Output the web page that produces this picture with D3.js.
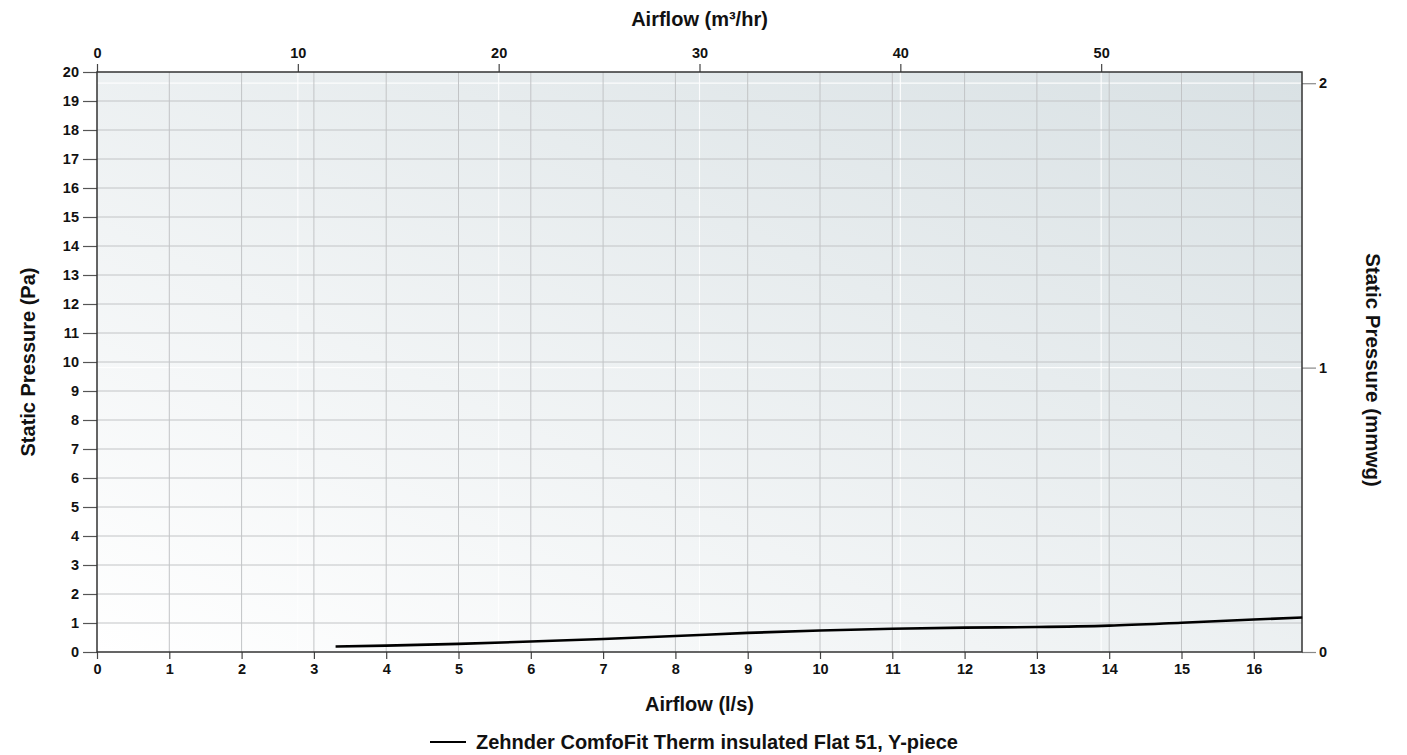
<!DOCTYPE html>
<html><head><meta charset="utf-8">
<script src="https://cdn.jsdelivr.net/npm/d3@7"></script>
<style>
html,body{margin:0;padding:0;background:#fff;}
svg text{font-family:"Liberation Sans",Arial,sans-serif;font-weight:bold;fill:#111;}
</style></head>
<body><svg id="c" width="1407" height="755"></svg>
<script>
// Data
const airflowLs = [3.3, 4, 5, 6, 7, 8, 9, 10, 11, 12, 13, 14, 15, 16, 16.67];
const pressurePa = [0.19, 0.22, 0.28, 0.36, 0.45, 0.55, 0.66, 0.74, 0.80, 0.84, 0.86, 0.91, 1.01, 1.12, 1.19];
const seriesName = "Zehnder ComfoFit Therm insulated Flat 51, Y-piece";
const bottomTicks = [0,1,2,3,4,5,6,7,8,9,10,11,12,13,14,15,16];
const topTicks = [0,10,20,30,40,50];
const leftTicks = d3.range(0,21);
const rightTicks = [0,1,2];
const xMaxLs = 60/3.6, xMaxM3 = 60, yMaxPa = 20, yMaxMmwg = 20/9.80665;

const svg = d3.select("#c");
const L=97, R=1302, T=72, B=652;
const x = d3.scaleLinear().domain([0,xMaxLs]).range([L,R]);
const xTop = d3.scaleLinear().domain([0,xMaxM3]).range([L,R]);
const y = d3.scaleLinear().domain([0,yMaxPa]).range([B,T]);
const yR = d3.scaleLinear().domain([0,yMaxMmwg]).range([B,T]);

const defs = svg.append("defs");
const g = defs.append("linearGradient").attr("id","bg").attr("x1","0%").attr("y1","100%").attr("x2","100%").attr("y2","0%");
g.append("stop").attr("offset","0%").attr("stop-color","#ffffff");
g.append("stop").attr("offset","100%").attr("stop-color","#d9e1e4");
svg.append("rect").attr("x",L).attr("y",T).attr("width",R-L).attr("height",B-T).attr("fill","url(#bg)");

// white grid from secondary axes
svg.append("g").selectAll("line").data(topTicks.slice(1)).join("line")
  .attr("x1",d=>xTop(d)).attr("x2",d=>xTop(d)).attr("y1",T).attr("y2",B)
  .attr("stroke","#ffffff").attr("stroke-width",1.2).attr("opacity",0.9);
svg.append("g").selectAll("line").data(rightTicks.slice(1)).join("line")
  .attr("x1",L).attr("x2",R).attr("y1",d=>yR(d)).attr("y2",d=>yR(d))
  .attr("stroke","#ffffff").attr("stroke-width",1.2).attr("opacity",0.9);

// gray grid
svg.append("g").selectAll("line").data(bottomTicks.slice(1)).join("line")
  .attr("x1",d=>x(d)).attr("x2",d=>x(d)).attr("y1",T).attr("y2",B)
  .attr("stroke","#c2c4c6").attr("stroke-width",1);
svg.append("g").selectAll("line").data(leftTicks.slice(1,-1)).join("line")
  .attr("x1",L).attr("x2",R).attr("y1",d=>y(d)).attr("y2",d=>y(d))
  .attr("stroke","#c2c4c6").attr("stroke-width",1);

// axes
function styleAxis(sel, col){
  sel.select(".domain").remove();
  sel.selectAll(".tick line").attr("stroke",col).attr("stroke-width",1.2);
  sel.selectAll(".tick text").attr("font-size","14.5px").attr("fill","#111");
}
const ab = svg.append("g").attr("transform",`translate(0,${B})`)
  .call(d3.axisBottom(x).tickValues(bottomTicks).tickSize(7).tickPadding(5).tickFormat(d3.format("d")));
styleAxis(ab,"#444");
const at = svg.append("g").attr("transform",`translate(0,${T})`)
  .call(d3.axisTop(xTop).tickValues(topTicks).tickSize(8).tickPadding(6).tickFormat(d3.format("d")));
styleAxis(at,"#444");
const al = svg.append("g").attr("transform",`translate(${L},0)`)
  .call(d3.axisLeft(y).tickValues(leftTicks).tickSize(14).tickPadding(4).tickFormat(d3.format("d")));
styleAxis(al,"#555");
const ar = svg.append("g").attr("transform",`translate(${R},0)`)
  .call(d3.axisRight(yR).tickValues(rightTicks).tickSize(14).tickPadding(3).tickFormat(d3.format("d")));
styleAxis(ar,"#888");

// border
svg.append("rect").attr("x",L).attr("y",T).attr("width",R-L).attr("height",B-T)
  .attr("fill","none").attr("stroke","#333").attr("stroke-width",1.5);

// line
const line = d3.line().x((d,i)=>x(airflowLs[i])).y(d=>y(d)).curve(d3.curveMonotoneX);
svg.append("path").datum(pressurePa).attr("d",line).attr("fill","none")
  .attr("stroke","#000").attr("stroke-width",2.6);

// titles
const cx=(L+R)/2;
svg.append("text").attr("x",cx).attr("y",26).attr("text-anchor","middle").attr("font-size","20px").text("Airflow (m³/hr)");
svg.append("text").attr("x",cx).attr("y",711).attr("text-anchor","middle").attr("font-size","20px").text("Airflow (l/s)");
svg.append("text").attr("transform",`translate(35,${(T+B)/2}) rotate(-90)`).attr("text-anchor","middle").attr("font-size","20px").text("Static Pressure (Pa)");
svg.append("text").attr("transform",`translate(1366,370) rotate(90)`).attr("text-anchor","middle").attr("font-size","20.5px").text("Static Pressure (mmwg)");

// legend
svg.append("line").attr("x1",430).attr("x2",466).attr("y1",742).attr("y2",742).attr("stroke","#000").attr("stroke-width",2);
svg.append("text").attr("x",476).attr("y",749).attr("font-size","20px").text(seriesName);
</script></body></html>
